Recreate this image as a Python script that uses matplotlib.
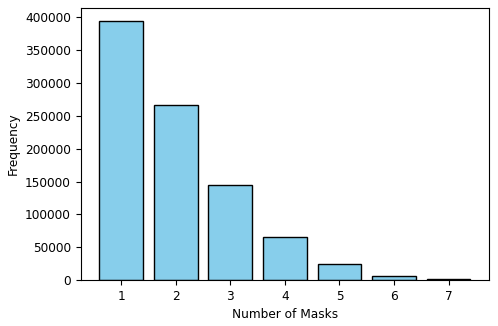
import matplotlib
matplotlib.use("Agg")
import matplotlib.pyplot as plt

# mask counts per image and how often they occur
num_masks = [1, 2, 3, 4, 5, 6, 7]
frequency = [394500, 266000, 145000, 65500, 24000, 5600, 900]

plt.rcParams['font.size'] = 8.7

fig = plt.figure(figsize=(4.98, 3.26), dpi=100)
ax = fig.add_subplot(111)
ax.bar(num_masks, frequency, color='skyblue', edgecolor='black')
ax.set_xlabel("Number of Masks")
ax.set_ylabel("Frequency")
ax.set_xticks(num_masks)
fig.subplots_adjust(left=0.162, right=0.982, top=0.975, bottom=0.141)
fig.savefig("out.png", dpi=100)
